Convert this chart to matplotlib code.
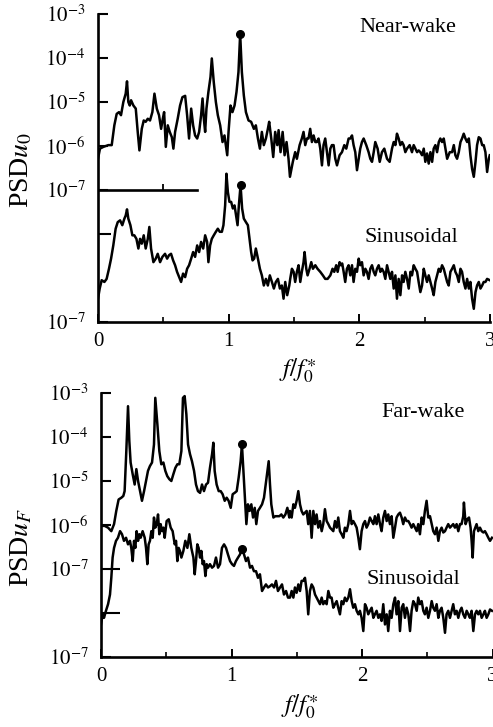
import numpy as np
import matplotlib
matplotlib.use('Agg')
import matplotlib.pyplot as plt

plt.rcParams['font.family'] = ['Liberation Serif', 'DejaVu Serif']
plt.rcParams['mathtext.fontset'] = 'stix'

# ---------------- data: (f/f0*, log10 PSD) ----------------
near_wake = [
    (0.000, -6.29), (0.015, -6.06), (0.041, -6.02), (0.079, -5.98), (0.105, -5.98), (0.125, -5.53),
    (0.143, -5.27), (0.161, -5.23), (0.176, -5.30), (0.194, -5.00), (0.212, -4.81), (0.222, -4.53),
    (0.232, -5.00), (0.243, -5.08), (0.253, -4.96), (0.271, -5.08), (0.289, -5.15), (0.304, -5.68),
    (0.317, -6.10), (0.335, -5.61), (0.350, -5.42), (0.365, -5.45), (0.381, -5.38), (0.398, -5.42),
    (0.416, -5.23), (0.432, -4.81), (0.450, -5.15), (0.467, -5.30), (0.483, -5.61), (0.496, -5.38),
    (0.506, -5.23), (0.519, -6.02), (0.534, -5.53), (0.549, -5.68), (0.565, -5.80), (0.577, -6.06),
    (0.590, -5.68), (0.610, -5.38), (0.628, -5.08), (0.646, -4.89), (0.667, -4.86), (0.682, -5.30),
    (0.697, -5.83), (0.713, -5.15), (0.728, -5.53), (0.743, -5.76), (0.759, -5.83), (0.774, -5.68),
    (0.789, -5.30), (0.800, -4.92), (0.810, -5.38), (0.820, -5.68), (0.830, -5.15), (0.845, -4.77),
    (0.861, -4.43), (0.871, -4.01), (0.886, -4.55), (0.902, -5.00), (0.917, -5.30), (0.935, -5.53),
    (0.953, -5.91), (0.968, -5.76), (0.978, -5.98), (0.989, -6.21), (0.999, -5.68), (1.014, -5.08),
    (1.029, -5.23), (1.045, -5.08), (1.060, -4.77), (1.075, -4.32), (1.088, -3.45), (1.101, -4.32),
    (1.116, -4.85), (1.132, -5.23), (1.152, -5.42), (1.172, -5.45), (1.193, -5.61), (1.208, -5.53),
    (1.224, -5.83), (1.239, -6.06), (1.254, -5.68), (1.269, -5.98), (1.285, -5.83), (1.300, -5.61),
    (1.310, -5.45), (1.326, -5.83), (1.341, -6.25), (1.356, -5.68), (1.372, -5.98), (1.382, -5.64),
    (1.397, -6.14), (1.413, -5.68), (1.428, -6.21), (1.443, -5.91), (1.458, -6.29), (1.469, -6.70),
    (1.491, -6.36), (1.509, -6.14), (1.522, -6.29), (1.543, -5.98), (1.560, -5.83), (1.573, -5.68),
    (1.586, -5.98), (1.599, -5.83), (1.611, -5.83), (1.624, -5.61), (1.637, -5.91), (1.650, -5.76),
    (1.663, -5.91), (1.675, -5.91), (1.688, -5.83), (1.701, -6.06), (1.714, -6.44), (1.726, -5.98),
    (1.739, -5.83), (1.752, -6.14), (1.765, -6.44), (1.778, -6.06), (1.790, -5.98), (1.803, -5.98),
    (1.816, -6.29), (1.829, -6.44), (1.849, -6.21), (1.867, -6.14), (1.885, -5.98), (1.900, -6.06),
    (1.918, -5.83), (1.931, -5.83), (1.944, -5.76), (1.956, -5.98), (1.969, -6.14), (1.982, -6.55),
    (1.995, -6.29), (2.007, -6.06), (2.020, -5.91), (2.033, -5.83), (2.053, -5.98), (2.071, -6.14),
    (2.084, -6.29), (2.097, -6.36), (2.110, -6.14), (2.122, -5.91), (2.140, -6.06), (2.156, -6.36),
    (2.173, -6.14), (2.191, -6.06), (2.212, -6.29), (2.232, -6.36), (2.250, -6.06), (2.263, -5.91),
    (2.276, -5.98), (2.288, -5.72), (2.301, -5.83), (2.314, -5.98), (2.327, -5.91), (2.339, -5.98),
    (2.352, -6.14), (2.365, -6.06), (2.385, -5.98), (2.403, -6.14), (2.416, -5.98), (2.429, -6.06),
    (2.442, -6.14), (2.454, -6.10), (2.467, -6.14), (2.480, -6.21), (2.493, -6.06), (2.505, -6.36),
    (2.518, -6.17), (2.531, -6.40), (2.544, -6.14), (2.557, -6.36), (2.569, -6.06), (2.582, -5.98),
    (2.595, -6.14), (2.608, -5.91), (2.620, -5.83), (2.633, -5.91), (2.646, -5.83), (2.659, -6.06),
    (2.672, -6.29), (2.692, -6.14), (2.710, -6.14), (2.723, -5.98), (2.735, -6.21), (2.748, -6.29),
    (2.761, -6.14), (2.774, -5.91), (2.786, -5.83), (2.799, -5.72), (2.812, -5.83), (2.825, -5.91),
    (2.838, -5.83), (2.850, -6.21), (2.863, -6.52), (2.876, -6.70), (2.889, -6.36), (2.901, -5.98),
    (2.914, -5.80), (2.927, -5.83), (2.940, -5.98), (2.952, -5.98), (2.965, -6.14), (2.978, -6.59),
    (2.991, -6.29), (2.998, -6.21),
]

near_sinusoidal = [
    (0.000, -9.47), (0.013, -9.24), (0.028, -9.05), (0.049, -9.09), (0.066, -9.02), (0.084, -8.79),
    (0.100, -8.56), (0.117, -8.26), (0.135, -7.88), (0.151, -7.73), (0.169, -7.69), (0.186, -7.80),
    (0.202, -7.65), (0.212, -7.58), (0.222, -7.44), (0.232, -7.65), (0.248, -7.80), (0.263, -8.03),
    (0.278, -8.03), (0.294, -8.11), (0.309, -8.33), (0.322, -8.11), (0.335, -8.22), (0.350, -8.03),
    (0.365, -8.33), (0.381, -8.11), (0.393, -7.84), (0.406, -8.33), (0.424, -8.64), (0.442, -8.56),
    (0.457, -8.45), (0.475, -8.64), (0.493, -8.52), (0.513, -8.45), (0.529, -8.56), (0.544, -8.48),
    (0.559, -8.45), (0.575, -8.60), (0.590, -8.71), (0.605, -8.86), (0.621, -8.98), (0.636, -9.09),
    (0.651, -8.90), (0.667, -8.98), (0.682, -8.79), (0.697, -8.71), (0.713, -8.56), (0.728, -8.41),
    (0.743, -8.52), (0.759, -8.26), (0.774, -8.41), (0.789, -8.18), (0.805, -8.33), (0.820, -8.03),
    (0.835, -8.18), (0.845, -8.64), (0.858, -8.26), (0.871, -8.11), (0.886, -8.03), (0.902, -7.95),
    (0.917, -7.88), (0.932, -7.95), (0.948, -7.95), (0.960, -7.80), (0.973, -7.35), (0.983, -6.63),
    (0.994, -7.05), (1.006, -7.27), (1.019, -7.27), (1.032, -7.42), (1.045, -7.35), (1.057, -7.58),
    (1.068, -7.80), (1.078, -7.35), (1.091, -6.89), (1.103, -7.42), (1.116, -7.65), (1.132, -7.73),
    (1.147, -7.80), (1.160, -8.11), (1.172, -8.41), (1.183, -8.60), (1.195, -8.56), (1.208, -8.33),
    (1.224, -8.56), (1.239, -8.79), (1.254, -8.94), (1.269, -9.17), (1.285, -9.02), (1.300, -9.17),
    (1.315, -8.94), (1.331, -9.09), (1.346, -9.24), (1.361, -9.09), (1.377, -9.02), (1.392, -9.24),
    (1.407, -9.17), (1.420, -9.47), (1.433, -9.09), (1.448, -9.39), (1.464, -9.17), (1.471, -9.02),
    (1.484, -8.79), (1.497, -8.86), (1.509, -9.09), (1.522, -8.86), (1.535, -8.71), (1.548, -9.09),
    (1.560, -8.86), (1.573, -8.64), (1.581, -8.41), (1.594, -8.79), (1.604, -8.94), (1.619, -8.79),
    (1.632, -8.64), (1.645, -8.79), (1.663, -8.71), (1.680, -8.79), (1.701, -8.86), (1.721, -8.94),
    (1.739, -9.02), (1.757, -9.02), (1.778, -8.94), (1.795, -8.79), (1.808, -8.86), (1.823, -8.71),
    (1.834, -8.86), (1.849, -8.64), (1.859, -8.71), (1.869, -8.67), (1.880, -8.86), (1.892, -9.09),
    (1.905, -8.79), (1.918, -8.71), (1.931, -8.94), (1.944, -8.71), (1.956, -9.09), (1.969, -8.79),
    (1.982, -8.86), (1.995, -8.56), (2.007, -8.71), (2.020, -8.64), (2.033, -8.94), (2.046, -8.79),
    (2.058, -8.86), (2.071, -9.02), (2.084, -8.79), (2.097, -8.71), (2.110, -8.86), (2.122, -8.94),
    (2.135, -8.79), (2.148, -8.71), (2.161, -8.86), (2.173, -8.79), (2.186, -8.86), (2.199, -9.02),
    (2.212, -8.71), (2.224, -8.86), (2.237, -9.02), (2.250, -8.86), (2.263, -9.24), (2.276, -8.94),
    (2.288, -9.47), (2.301, -9.02), (2.314, -9.39), (2.327, -8.94), (2.339, -9.09), (2.352, -8.86),
    (2.365, -9.02), (2.378, -9.24), (2.391, -8.86), (2.403, -8.94), (2.416, -8.71), (2.429, -8.79),
    (2.442, -8.86), (2.454, -9.09), (2.467, -9.32), (2.480, -9.17), (2.493, -8.79), (2.505, -8.94),
    (2.518, -9.09), (2.531, -8.94), (2.544, -9.09), (2.557, -9.24), (2.569, -9.39), (2.582, -9.09),
    (2.595, -8.94), (2.608, -8.79), (2.620, -8.86), (2.633, -8.71), (2.646, -8.79), (2.659, -8.94),
    (2.672, -9.09), (2.684, -9.17), (2.697, -8.86), (2.710, -8.79), (2.723, -8.71), (2.735, -8.86),
    (2.748, -8.94), (2.761, -9.09), (2.774, -8.79), (2.786, -8.86), (2.799, -9.09), (2.812, -9.24),
    (2.825, -9.02), (2.838, -9.24), (2.850, -9.09), (2.863, -9.47), (2.876, -9.70), (2.889, -9.32),
    (2.901, -9.17), (2.914, -9.09), (2.927, -9.24), (2.940, -9.17), (2.952, -9.09), (2.965, -9.09),
    (2.978, -9.02), (2.998, -9.05),
]

far_wake = [
    (0.000, -6.02), (0.028, -6.02), (0.054, -6.06), (0.079, -6.14), (0.100, -5.98), (0.117, -5.68),
    (0.135, -5.42), (0.156, -5.38), (0.171, -5.34), (0.181, -5.23), (0.194, -4.32), (0.207, -3.30),
    (0.217, -4.09), (0.227, -4.58), (0.243, -4.85), (0.258, -5.08), (0.271, -4.73), (0.284, -5.00),
    (0.299, -5.23), (0.314, -5.45), (0.330, -5.23), (0.345, -5.00), (0.360, -4.77), (0.375, -4.66),
    (0.391, -4.58), (0.406, -4.17), (0.416, -3.11), (0.432, -3.71), (0.447, -4.32), (0.462, -4.62),
    (0.478, -4.58), (0.493, -4.77), (0.508, -4.89), (0.524, -4.96), (0.539, -5.00), (0.554, -4.85),
    (0.570, -4.70), (0.585, -4.62), (0.600, -4.62), (0.616, -4.32), (0.628, -3.11), (0.641, -3.07),
    (0.654, -3.48), (0.667, -4.17), (0.682, -4.39), (0.697, -4.55), (0.713, -4.77), (0.728, -5.08),
    (0.743, -5.23), (0.759, -5.27), (0.774, -5.08), (0.789, -5.23), (0.805, -5.08), (0.820, -5.04),
    (0.835, -4.70), (0.851, -4.39), (0.861, -4.13), (0.871, -4.77), (0.886, -5.08), (0.902, -5.23),
    (0.917, -5.23), (0.932, -5.30), (0.948, -5.45), (0.963, -5.38), (0.978, -5.45), (0.994, -5.61),
    (1.009, -5.30), (1.024, -5.27), (1.040, -5.23), (1.055, -4.92), (1.070, -4.55), (1.080, -4.17),
    (1.091, -4.77), (1.101, -5.30), (1.114, -5.98), (1.126, -5.53), (1.139, -5.68), (1.152, -5.53),
    (1.165, -5.83), (1.178, -5.61), (1.190, -5.98), (1.203, -5.68), (1.218, -5.61), (1.234, -5.53),
    (1.249, -5.38), (1.262, -5.08), (1.275, -4.77), (1.285, -4.55), (1.295, -5.08), (1.305, -5.53),
    (1.321, -5.83), (1.336, -5.80), (1.351, -5.80), (1.367, -5.80), (1.382, -5.76), (1.397, -5.83),
    (1.413, -5.76), (1.428, -5.61), (1.443, -5.83), (1.448, -5.68), (1.461, -5.83), (1.474, -5.53),
    (1.486, -5.61), (1.499, -5.45), (1.512, -5.23), (1.525, -5.53), (1.537, -5.68), (1.550, -5.76),
    (1.563, -5.72), (1.576, -5.68), (1.588, -5.98), (1.601, -5.68), (1.614, -6.29), (1.627, -5.68),
    (1.640, -5.98), (1.652, -5.76), (1.665, -6.06), (1.678, -5.91), (1.691, -6.14), (1.703, -5.98),
    (1.716, -5.64), (1.729, -5.91), (1.742, -5.98), (1.755, -6.06), (1.767, -6.10), (1.780, -6.14),
    (1.793, -5.91), (1.806, -6.06), (1.818, -5.83), (1.831, -6.14), (1.844, -6.21), (1.857, -6.29),
    (1.869, -6.06), (1.882, -6.14), (1.895, -5.98), (1.908, -5.68), (1.921, -5.98), (1.933, -5.91),
    (1.946, -5.98), (1.959, -6.06), (1.972, -6.29), (1.984, -6.55), (1.997, -6.14), (2.010, -5.98),
    (2.023, -5.91), (2.035, -6.06), (2.048, -5.98), (2.061, -5.83), (2.074, -5.91), (2.087, -5.98),
    (2.099, -5.80), (2.112, -5.98), (2.125, -5.76), (2.138, -5.98), (2.150, -6.14), (2.163, -5.83),
    (2.176, -5.68), (2.189, -5.91), (2.201, -5.76), (2.214, -5.98), (2.227, -5.80), (2.240, -6.29),
    (2.253, -6.06), (2.265, -5.83), (2.278, -5.76), (2.291, -5.72), (2.304, -5.83), (2.316, -5.98),
    (2.329, -5.83), (2.342, -5.91), (2.355, -5.91), (2.368, -5.98), (2.380, -6.06), (2.393, -5.98),
    (2.406, -6.06), (2.419, -6.14), (2.431, -5.98), (2.444, -6.21), (2.457, -5.83), (2.470, -5.98),
    (2.482, -5.68), (2.495, -5.45), (2.508, -5.83), (2.521, -5.80), (2.534, -5.98), (2.546, -6.14),
    (2.559, -6.21), (2.572, -6.06), (2.585, -6.36), (2.597, -6.14), (2.610, -6.06), (2.623, -6.17),
    (2.636, -6.14), (2.648, -6.06), (2.661, -5.98), (2.674, -6.06), (2.687, -6.02), (2.699, -5.98),
    (2.712, -6.06), (2.725, -5.98), (2.738, -6.14), (2.751, -5.98), (2.763, -5.98), (2.776, -5.80),
    (2.781, -5.49), (2.794, -5.98), (2.807, -5.87), (2.820, -5.83), (2.832, -6.06), (2.840, -6.36),
    (2.848, -6.74), (2.858, -6.14), (2.868, -6.06), (2.878, -5.98), (2.891, -6.14), (2.904, -6.06),
    (2.917, -6.14), (2.930, -6.17), (2.942, -6.14), (2.955, -6.21), (2.968, -6.29), (2.981, -6.36),
    (2.996, -6.29),
]

far_sinusoidal = [
    (0.000, -8.26), (0.013, -8.03), (0.023, -8.11), (0.038, -7.95), (0.054, -7.80), (0.069, -7.58),
    (0.079, -7.20), (0.089, -6.74), (0.100, -6.52), (0.115, -6.36), (0.130, -6.29), (0.146, -6.14),
    (0.161, -6.21), (0.176, -6.36), (0.192, -6.29), (0.207, -6.44), (0.222, -6.36), (0.232, -6.52),
    (0.243, -6.82), (0.253, -6.36), (0.263, -6.52), (0.273, -6.14), (0.284, -6.36), (0.294, -6.21),
    (0.304, -6.29), (0.319, -6.14), (0.335, -6.29), (0.345, -6.52), (0.355, -6.89), (0.365, -6.44),
    (0.375, -6.36), (0.386, -6.14), (0.396, -6.29), (0.406, -5.83), (0.416, -6.06), (0.427, -5.98),
    (0.437, -5.76), (0.447, -6.21), (0.457, -5.98), (0.467, -6.14), (0.478, -6.06), (0.488, -6.29),
    (0.503, -5.91), (0.519, -5.87), (0.534, -6.06), (0.549, -6.14), (0.565, -6.44), (0.575, -6.36),
    (0.585, -6.82), (0.595, -6.52), (0.605, -6.59), (0.616, -6.74), (0.631, -6.59), (0.646, -6.36),
    (0.662, -6.52), (0.677, -6.21), (0.692, -6.52), (0.708, -6.74), (0.718, -7.12), (0.728, -6.82),
    (0.738, -6.44), (0.748, -6.52), (0.759, -6.74), (0.769, -6.59), (0.779, -6.89), (0.789, -6.82),
    (0.800, -7.16), (0.810, -6.89), (0.820, -6.97), (0.835, -6.89), (0.851, -6.97), (0.866, -6.93),
    (0.881, -6.74), (0.897, -6.97), (0.912, -6.89), (0.927, -6.52), (0.943, -6.44), (0.958, -6.52),
    (0.973, -6.67), (0.989, -6.82), (1.004, -6.89), (1.019, -6.93), (1.034, -6.82), (1.050, -6.74),
    (1.065, -6.67), (1.080, -6.55), (1.096, -6.67), (1.111, -6.82), (1.126, -6.74), (1.142, -6.97),
    (1.157, -6.93), (1.172, -7.05), (1.188, -7.05), (1.203, -7.20), (1.218, -7.12), (1.234, -7.50),
    (1.249, -7.42), (1.264, -7.35), (1.280, -7.42), (1.295, -7.39), (1.310, -7.35), (1.326, -7.42),
    (1.341, -7.27), (1.356, -7.50), (1.372, -7.42), (1.387, -7.35), (1.402, -7.58), (1.418, -7.50),
    (1.433, -7.65), (1.448, -7.65), (1.461, -7.50), (1.474, -7.65), (1.486, -7.42), (1.499, -7.54),
    (1.512, -7.35), (1.525, -7.50), (1.537, -7.27), (1.550, -7.27), (1.563, -7.20), (1.576, -7.50),
    (1.588, -8.03), (1.601, -7.50), (1.614, -7.35), (1.627, -7.42), (1.640, -7.58), (1.652, -7.65),
    (1.665, -7.73), (1.678, -7.80), (1.691, -7.65), (1.703, -7.80), (1.716, -7.73), (1.729, -7.80),
    (1.742, -7.50), (1.755, -7.65), (1.767, -7.65), (1.780, -7.88), (1.793, -7.80), (1.806, -7.73),
    (1.818, -7.88), (1.831, -8.03), (1.844, -7.73), (1.857, -7.80), (1.869, -7.65), (1.882, -7.73),
    (1.895, -7.65), (1.908, -7.46), (1.921, -7.73), (1.933, -7.88), (1.946, -7.80), (1.959, -7.95),
    (1.972, -8.03), (1.984, -7.95), (1.997, -8.11), (2.010, -8.41), (2.023, -7.80), (2.035, -7.88),
    (2.048, -8.03), (2.061, -7.95), (2.074, -7.88), (2.087, -8.11), (2.099, -8.03), (2.112, -7.95),
    (2.125, -8.11), (2.138, -8.03), (2.150, -8.18), (2.163, -7.80), (2.176, -8.26), (2.189, -8.03),
    (2.201, -8.41), (2.214, -7.95), (2.227, -8.11), (2.240, -7.80), (2.253, -7.65), (2.265, -8.03),
    (2.278, -7.73), (2.291, -8.41), (2.304, -7.88), (2.316, -7.80), (2.329, -8.11), (2.342, -7.88),
    (2.355, -8.03), (2.368, -8.41), (2.380, -7.95), (2.393, -7.73), (2.406, -7.80), (2.419, -7.95),
    (2.431, -7.65), (2.444, -7.80), (2.457, -7.73), (2.470, -7.95), (2.482, -8.03), (2.495, -7.88),
    (2.508, -8.11), (2.521, -7.95), (2.534, -7.73), (2.546, -7.88), (2.559, -7.95), (2.572, -7.80),
    (2.585, -8.11), (2.597, -7.95), (2.610, -7.88), (2.623, -8.11), (2.636, -8.45), (2.648, -8.03),
    (2.661, -7.95), (2.674, -8.11), (2.687, -7.95), (2.699, -7.80), (2.712, -8.03), (2.725, -7.95),
    (2.738, -8.11), (2.751, -7.95), (2.763, -7.88), (2.776, -8.03), (2.789, -8.11), (2.802, -7.95),
    (2.815, -8.03), (2.827, -8.11), (2.840, -7.95), (2.853, -8.41), (2.866, -8.03), (2.878, -7.95),
    (2.891, -8.03), (2.904, -7.95), (2.917, -8.11), (2.930, -8.03), (2.942, -7.95), (2.955, -8.11),
    (2.968, -8.03), (2.981, -7.92), (2.996, -7.95),
]

# marked peaks (f/f0*, log10 PSD)
near_wake_dot = (1.088, -3.45)
near_sin_dot = (1.091, -6.89)
far_wake_dot = (1.080, -4.17)
far_sin_dot = (1.080, -6.55)

x_ticks = [0, 1, 2, 3]
x_tick_labels = ['0', '1', '2', '3']
x_minor = [0.5, 1.5, 2.5]

top_yticks = [1e-3, 1e-4, 1e-5, 1e-6, 1e-7, 1e-10]
top_ylabels = [r'$10^{-3}$', r'$10^{-4}$', r'$10^{-5}$', r'$10^{-6}$', r'$10^{-7}$', r'$10^{-7}$']
top_yminor = [1e-8]
bot_yticks = [1e-3, 1e-4, 1e-5, 1e-6, 1e-9]
bot_ylabels = [r'$10^{-3}$', r'$10^{-4}$', r'$10^{-5}$', r'$10^{-6}$', r'$10^{-7}$']
bot_yminor = [1e-7, 1e-8]
bot_yminor_labels = [r'$10^{-7}$', '']


def split(pts):
    a = np.array(pts, dtype=float)
    return a[:, 0], 10.0 ** a[:, 1]


W, H = 493, 727
fig = plt.figure(figsize=(W / 100, H / 100), dpi=100)
ax1 = fig.add_axes([98 / W, 1 - 322 / H, 392 / W, 308 / H])
ax2 = fig.add_axes([101 / W, 1 - 657 / H, 391.5 / W, 264 / H])

LW = 1.8
TICKFS = 15

for ax in (ax1, ax2):
    ax.set_yscale('log')
    ax.set_xlim(0, 3)
    for s in ('top', 'right'):
        ax.spines[s].set_visible(False)
    for s in ('left', 'bottom'):
        ax.spines[s].set_linewidth(1.9)
    ax.set_xticks(x_ticks, x_tick_labels)
    ax.set_xticks(x_minor, minor=True)
    ax.tick_params(axis='x', which='major', direction='in', length=6, width=1.4,
                   labelsize=TICKFS, pad=7)
    ax.tick_params(axis='x', which='minor', direction='in', length=3.5, width=1.2)
    ax.tick_params(axis='y', which='both', direction='in', width=1.5, labelsize=TICKFS, pad=9)
    ax.tick_params(axis='y', which='major', length=7.5)

# ---- top panel ----
ax1.set_ylim(1e-10, 1e-3)
ax1.set_yticks(top_yticks, top_ylabels)
ax1.set_yticks(top_yminor, minor=True)
ax1.yaxis.set_minor_formatter(matplotlib.ticker.NullFormatter())
ax1.tick_params(axis='y', which='minor', length=9)

f, p = split(near_wake)
ax1.plot(f, p, color='black', lw=LW)
f, p = split(near_sinusoidal)
ax1.plot(f, p, color='black', lw=LW)
ax1.plot([near_wake_dot[0]], [10 ** near_wake_dot[1]], 'o', color='black', ms=5.5)
ax1.plot([near_sin_dot[0]], [10 ** near_sin_dot[1]], 'o', color='black', ms=5.5)
# partial reference axis of the shifted spectrum
ax1.axhline(1e-7, xmin=0, xmax=0.253, color='black', lw=1.9)
ax1.vlines(0.5, 1e-7, 1.35e-7, color='black', lw=1.3)

# ---- bottom panel ----
ax2.set_ylim(1e-9, 1e-3)
ax2.set_yticks(bot_yticks, bot_ylabels)
ax2.set_yticks(bot_yminor, bot_yminor_labels, minor=True)
ax2.tick_params(axis='y', which='minor', length=14, labelsize=TICKFS)

f, p = split(far_wake)
ax2.plot(f, p, color='black', lw=LW)
f, p = split(far_sinusoidal)
ax2.plot(f, p, color='black', lw=LW)
ax2.plot([far_wake_dot[0]], [10 ** far_wake_dot[1]], 'o', color='black', ms=5.5)
ax2.plot([far_sin_dot[0]], [10 ** far_sin_dot[1]], 'o', color='black', ms=5.5)


def ftext(x, y, s, **kw):
    fig.text(x / W, 1 - y / H, s, **kw)


ftext(22, 170, r'PSD$u_0$', rotation=90, ha='center', va='center', fontsize=20)
ftext(22, 547, r'PSD$u_F$', rotation=90, ha='center', va='center', fontsize=20)
ftext(298, 371, r'$f/f_0^{\ast}$', ha='center', va='center', fontsize=18)
ftext(300, 707, r'$f/f_0^{\ast}$', ha='center', va='center', fontsize=18)
ftext(408, 28, 'Near-wake', ha='center', va='center', fontsize=16)
ftext(411, 238, 'Sinusoidal', ha='center', va='center', fontsize=16)
ftext(423, 412, 'Far-wake', ha='center', va='center', fontsize=16)
ftext(413, 579, 'Sinusoidal', ha='center', va='center', fontsize=16)

fig.savefig('out.png', dpi=100)
